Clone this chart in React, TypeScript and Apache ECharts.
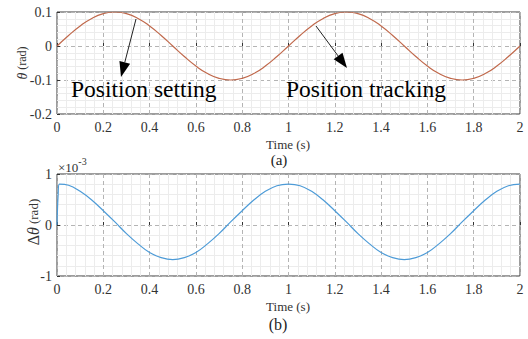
import React, { useEffect, useRef } from "react";
import * as echarts from "echarts";

const timeTicks = ["0", "0.2", "0.4", "0.6", "0.8", "1", "1.2", "1.4", "1.6", "1.8", "2"];

const thetaTime = [
  0, 0.05, 0.1, 0.15, 0.2, 0.25, 0.3, 0.35, 0.4, 0.45, 0.5, 0.55, 0.6, 0.65, 0.7, 0.75, 0.8, 0.85, 0.9, 0.95,
  1.0, 1.05, 1.1, 1.15, 1.2, 1.25, 1.3, 1.35, 1.4, 1.45, 1.5, 1.55, 1.6, 1.65, 1.7, 1.75, 1.8, 1.85, 1.9, 1.95, 2.0,
];
const thetaValues = [
  0, 0.031, 0.059, 0.081, 0.095, 0.1, 0.095, 0.081, 0.059, 0.031, 0, -0.031, -0.059, -0.081, -0.095, -0.1, -0.095,
  -0.081, -0.059, -0.031, 0, 0.031, 0.059, 0.081, 0.095, 0.1, 0.095, 0.081, 0.059, 0.031, 0, -0.031, -0.059, -0.081,
  -0.095, -0.1, -0.095, -0.081, -0.059, -0.031, 0,
];

const errTime = [
  0, 0.005, 0.01, 0.05, 0.1, 0.15, 0.2, 0.25, 0.3, 0.35, 0.4, 0.45, 0.5, 0.55, 0.6, 0.65, 0.7, 0.75, 0.8, 0.85, 0.9,
  0.95, 1.0, 1.05, 1.1, 1.15, 1.2, 1.25, 1.3, 1.35, 1.4, 1.45, 1.5, 1.55, 1.6, 1.65, 1.7, 1.75, 1.8, 1.85, 1.9, 1.95,
  2.0,
];
// units of 1e-3 rad
const errValues = [
  0, 0.6, 0.8, 0.78, 0.66, 0.49, 0.28, 0.06, -0.17, -0.37, -0.54, -0.64, -0.68, -0.64, -0.54, -0.37, -0.17, 0.06,
  0.28, 0.49, 0.66, 0.77, 0.8, 0.77, 0.66, 0.49, 0.28, 0.06, -0.17, -0.37, -0.54, -0.64, -0.68, -0.64, -0.54, -0.37,
  -0.17, 0.06, 0.28, 0.49, 0.66, 0.77, 0.8,
];

const FONT = "Liberation Serif";

function arrow(x1: number, y1: number, x2: number, y2: number) {
  const dx = x2 - x1;
  const dy = y2 - y1;
  const len = Math.sqrt(dx * dx + dy * dy);
  const ux = dx / len;
  const uy = dy / len;
  const hl = 15;
  const hw = 5.5;
  const bx = x2 - ux * hl;
  const by = y2 - uy * hl;
  const px = -uy * hw;
  const py = ux * hw;
  return [
    {
      type: "line",
      z: 100,
      shape: { x1, y1, x2: bx, y2: by },
      style: { stroke: "#222", lineWidth: 1 },
      silent: true,
    },
    {
      type: "polygon",
      z: 100,
      shape: {
        points: [
          [x2, y2],
          [bx + px, by + py],
          [bx - px, by - py],
        ],
      },
      style: { fill: "#000" },
      silent: true,
    },
  ];
}

function xAxisCfg(gridIndex: number) {
  return {
    type: "value",
    gridIndex,
    min: 0,
    max: 2,
    interval: 0.2,
    axisLine: { show: false },
    axisTick: { show: true, inside: true, length: 3, lineStyle: { color: "#333" } },
    axisLabel: {
      color: "#333",
      fontFamily: FONT,
      fontSize: 14,
      margin: 6,
      formatter: (v: number) => timeTicks[Math.round(v / 0.2)] ?? "",
    },
    splitLine: { show: true, lineStyle: { color: "#b4b4b4", type: [4, 3], width: 1 } },
    minorTick: { show: false, splitNumber: 5 },
    minorSplitLine: { show: true, lineStyle: { color: "#ececec", width: 1 } },
  };
}

function yAxisCfg(gridIndex: number, min: number, max: number, interval: number) {
  return {
    type: "value",
    gridIndex,
    min,
    max,
    interval,
    axisLine: { show: false },
    axisTick: { show: true, inside: true, length: 3, lineStyle: { color: "#333" } },
    axisLabel: {
      color: "#333",
      fontFamily: FONT,
      fontSize: 14,
      margin: 5,
      formatter: (v: number) => String(Math.round(v * 1000) / 1000),
    },
    splitLine: { show: true, lineStyle: { color: "#b4b4b4", type: [4, 3], width: 1 } },
    minorTick: { show: false, splitNumber: 5 },
    minorSplitLine: { show: true, lineStyle: { color: "#ececec", width: 1 } },
  };
}

export default function App() {
  const ref = useRef<HTMLDivElement>(null);

  useEffect(() => {
    if (!ref.current) return;
    const chart = echarts.init(ref.current, null, { renderer: "svg" });
    const option: any = {
      animation: false,
      backgroundColor: "#fff",
      textStyle: { fontFamily: FONT },
      grid: [
        { left: 57, top: 12, width: 463, height: 102, show: true, borderColor: "#3a3a3a", borderWidth: 1, backgroundColor: "#fff" },
        { left: 57, top: 174, width: 463, height: 102, show: true, borderColor: "#3a3a3a", borderWidth: 1, backgroundColor: "#fff" },
      ],
      xAxis: [xAxisCfg(0), xAxisCfg(1)],
      yAxis: [yAxisCfg(0, -0.2, 0.1, 0.1), yAxisCfg(1, -1, 1, 1)],
      series: [
        {
          type: "line",
          xAxisIndex: 0,
          yAxisIndex: 0,
          data: thetaTime.map((t, i) => [t, thetaValues[i]]),
          smooth: true,
          showSymbol: false,
          lineStyle: { color: "#c0694c", width: 1.2 },
        },
        {
          type: "line",
          xAxisIndex: 1,
          yAxisIndex: 1,
          data: errTime.map((t, i) => [t, errValues[i]]),
          smooth: 0.4,
          showSymbol: false,
          lineStyle: { color: "#4d9bd7", width: 1.2 },
        },
      ],
      graphic: [
        {
          type: "text",
          z: 100,
          x: 22,
          y: 63,
          rotation: Math.PI / 2,
          style: {
            text: "{i|θ} {n|(rad)}",
            fontFamily: FONT,
            align: "center",
            verticalAlign: "middle",
            rich: {
              i: { fontFamily: FONT, fontStyle: "italic", fontSize: 14, fill: "#333" },
              n: { fontFamily: FONT, fontSize: 12, fill: "#333" },
            },
          },
        },
        {
          type: "text",
          z: 100,
          x: 33,
          y: 222,
          rotation: Math.PI / 2,
          style: {
            text: "{d|Δ}{i|θ} {n|(rad)}",
            fontFamily: FONT,
            align: "center",
            verticalAlign: "middle",
            rich: {
              d: { fontFamily: FONT, fontSize: 16, fill: "#333" },
              i: { fontFamily: FONT, fontStyle: "italic", fontSize: 16, fill: "#333" },
              n: { fontFamily: FONT, fontSize: 13, fill: "#333" },
            },
          },
        },
        {
          type: "text",
          z: 100,
          x: 58,
          y: 165,
          style: {
            text: "{a|×10}{b|-3}",
            fontFamily: FONT,
            align: "left",
            verticalAlign: "middle",
            rich: {
              a: { fontFamily: FONT, fontSize: 13, fill: "#333", verticalAlign: "bottom" },
              b: { fontFamily: FONT, fontSize: 10, fill: "#333", verticalAlign: "top", padding: [0, 0, 8, 0] },
            },
          },
        },
        {
          type: "text",
          z: 100,
          x: 288,
          y: 144.5,
          style: { text: "Time (s)", fontFamily: FONT, fontSize: 13, fill: "#333", align: "center", verticalAlign: "middle" },
        },
        {
          type: "text",
          z: 100,
          x: 279,
          y: 159.5,
          style: { text: "(a)", fontFamily: FONT, fontSize: 15, fill: "#222", align: "center", verticalAlign: "middle" },
        },
        {
          type: "text",
          z: 100,
          x: 288,
          y: 306,
          style: { text: "Time (s)", fontFamily: FONT, fontSize: 13, fill: "#333", align: "center", verticalAlign: "middle" },
        },
        {
          type: "text",
          z: 100,
          x: 278,
          y: 324,
          style: { text: "(b)", fontFamily: FONT, fontSize: 16, fill: "#222", align: "center", verticalAlign: "middle" },
        },
        {
          type: "text",
          z: 100,
          x: 71,
          y: 89,
          style: { text: "Position setting", fontFamily: FONT, fontSize: 23.5, fill: "#000", align: "left", verticalAlign: "middle" },
        },
        {
          type: "text",
          z: 100,
          x: 286,
          y: 89,
          style: { text: "Position tracking", fontFamily: FONT, fontSize: 23.5, fill: "#000", align: "left", verticalAlign: "middle" },
        },
        ...arrow(136, 19, 121, 77),
        ...arrow(316, 26, 347, 68),
      ],
    };
    chart.setOption(option);
    return () => chart.dispose();
  }, []);

  return (
    <div
      ref={ref}
      style={{ position: "fixed", left: 0, top: 0, width: 528, height: 339, background: "#fff" }}
    />
  );
}
